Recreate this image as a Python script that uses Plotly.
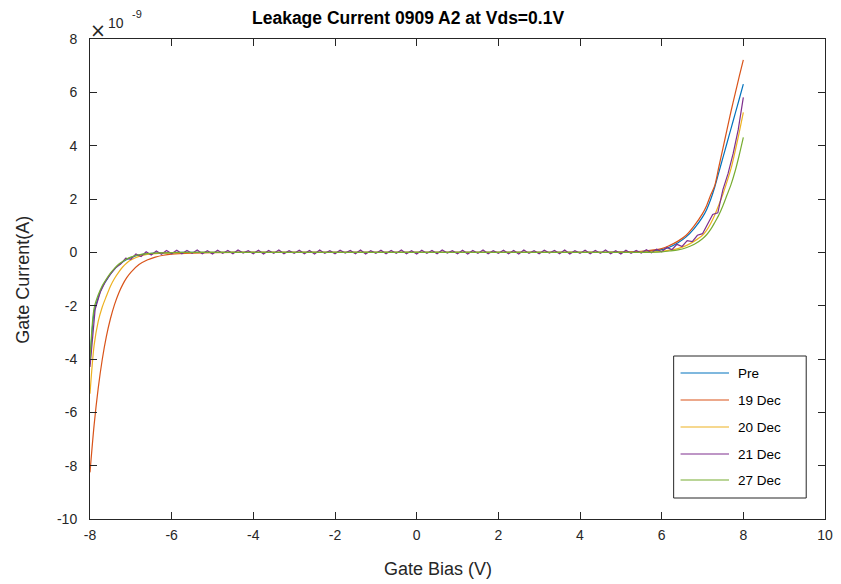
import plotly.graph_objects as go

# ---------------- data (currents in units of 1e-9 A) ----------------
series_names = ["Pre", "19 Dec", "20 Dec", "21 Dec", "27 Dec"]
series_colors = ["#0072BD", "#D95319", "#EDB120", "#7E2F8E", "#77AC30"]

# shared gate-bias samples for the smooth curves
x_smooth = [-8.0, -7.9, -7.8, -7.7, -7.6, -7.5, -7.4, -7.3, -7.2, -7.1, -7.0,
            -6.8, -6.6, -6.4, -6.2, -6.0, -5.5, -5.0, -4.0, -2.0, 0.0, 2.0, 4.0,
            5.0, 5.5, 6.0, 6.2, 6.4, 6.6, 6.8, 7.0, 7.1, 7.2, 7.3, 7.4, 7.5, 7.6,
            7.7, 7.8, 7.9, 8.0]

pre = [-4.2, -2.25, -1.7, -1.3, -1.05, -0.82, -0.63, -0.48, -0.36, -0.27, -0.2,
       -0.1, -0.06, -0.03, -0.02, -0.01, 0.0, 0.0, 0.0, 0.0, 0.0, 0.0, 0.0,
       0.01, 0.03, 0.1, 0.2, 0.36, 0.58, 0.9, 1.32, 1.6, 1.98, 2.45, 3.0, 3.55, 4.1,
       4.65, 5.2, 5.75, 6.31]

dec19 = [-8.25, -6.49, -5.11, -4.02, -3.16, -2.49, -1.96, -1.54, -1.21, -0.95, -0.75,
         -0.46, -0.29, -0.18, -0.11, -0.07, -0.03, -0.01, 0.0, 0.0, 0.0, 0.0, 0.0,
         0.01, 0.04, 0.14, 0.26, 0.42, 0.64, 1.0, 1.45, 1.75, 2.15, 2.5, 3.2, 3.9, 4.6,
         5.3, 5.95, 6.6, 7.22]

dec20 = [-5.3, -3.5, -2.6, -2.05, -1.65, -1.27, -0.98, -0.75, -0.55, -0.4, -0.29,
         -0.15, -0.08, -0.05, -0.03, -0.02, -0.01, 0.0, 0.0, 0.0, 0.0, 0.0, 0.0,
         0.0, 0.01, 0.04, 0.08, 0.14, 0.25, 0.42, 0.64, 0.82, 1.08, 1.4, 1.78, 2.18, 2.65,
         3.15, 3.8, 4.5, 5.25]

dec27 = [-4.0, -2.1, -1.6, -1.25, -1.0, -0.78, -0.6, -0.45, -0.34, -0.25, -0.18,
         -0.09, -0.05, -0.03, -0.02, -0.01, 0.0, 0.0, 0.0, 0.0, 0.0, 0.0, 0.0,
         0.0, 0.0, 0.02, 0.05, 0.09, 0.17, 0.3, 0.51, 0.66, 0.86, 1.12, 1.4, 1.75, 2.15,
         2.55, 3.05, 3.65, 4.31]

# the noisy 21 Dec sweep, sampled every 0.125 V
x_dec21 = [-8.0, -7.875, -7.75, -7.625, -7.5, -7.375, -7.25, -7.125, -7.0, -6.875,
           -6.75, -6.625, -6.5, -6.375, -6.25, -6.125, -6.0, -5.875, -5.75, -5.625,
           -5.5, -5.375, -5.25, -5.125, -5.0, -4.875, -4.75, -4.625, -4.5, -4.375,
           -4.25, -4.125, -4.0, -3.875, -3.75, -3.625, -3.5, -3.375, -3.25, -3.125,
           -3.0, -2.875, -2.75, -2.625, -2.5, -2.375, -2.25, -2.125, -2.0, -1.875,
           -1.75, -1.625, -1.5, -1.375, -1.25, -1.125, -1.0, -0.875, -0.75, -0.625,
           -0.5, -0.375, -0.25, -0.125, 0.0, 0.125, 0.25, 0.375, 0.5, 0.625,
           0.75, 0.875, 1.0, 1.125, 1.25, 1.375, 1.5, 1.625, 1.75, 1.875,
           2.0, 2.125, 2.25, 2.375, 2.5, 2.625, 2.75, 2.875, 3.0, 3.125,
           3.25, 3.375, 3.5, 3.625, 3.75, 3.875, 4.0, 4.125, 4.25, 4.375,
           4.5, 4.625, 4.75, 4.875, 5.0, 5.125, 5.25, 5.375, 5.5, 5.625,
           5.75, 5.875, 6.0, 6.125, 6.25, 6.375, 6.5, 6.625, 6.75, 6.875,
           7.0, 7.125, 7.25, 7.375, 7.5, 7.625, 7.75, 7.875, 8.0]

dec21 = [-4.3, -2.15, -1.5, -1.1, -0.82, -0.58, -0.44, -0.22, -0.26, -0.06,
         -0.16, 0.02, -0.1, 0.05, -0.07, 0.07, -0.05, 0.08, -0.05, 0.07,
         -0.04, 0.09, -0.05, 0.06, -0.06, 0.08, -0.04, 0.07, -0.05, 0.09,
         -0.03, 0.06, -0.05, 0.08, -0.06, 0.07, -0.04, 0.09, -0.05, 0.06,
         -0.04, 0.08, -0.05, 0.07, -0.06, 0.09, -0.04, 0.06, -0.05, 0.08,
         -0.03, 0.07, -0.05, 0.09, -0.06, 0.06, -0.04, 0.08, -0.05, 0.07,
         -0.04, 0.09, -0.05, 0.06, -0.06, 0.08, -0.04, 0.07, -0.05, 0.09,
         -0.03, 0.06, -0.05, 0.08, -0.06, 0.07, -0.04, 0.09, -0.05, 0.06,
         -0.04, 0.08, -0.05, 0.07, -0.06, 0.09, -0.04, 0.06, -0.05, 0.08,
         -0.03, 0.07, -0.05, 0.09, -0.06, 0.06, -0.04, 0.08, -0.05, 0.07,
         -0.04, 0.09, -0.05, 0.06, -0.06, 0.08, -0.04, 0.07, -0.03, 0.1,
         -0.02, 0.12, 0.02, 0.18, 0.1, 0.3, 0.22, 0.44, 0.4, 0.64,
         0.7, 1.06, 1.42, 1.48, 2.35, 2.95, 3.7, 4.6, 5.81]

x_tick_vals = [-8, -6, -4, -2, 0, 2, 4, 6, 8, 10]
x_tick_text = ["-8", "-6", "-4", "-2", "0", "2", "4", "6", "8", "10"]
y_tick_vals = [-10, -8, -6, -4, -2, 0, 2, 4, 6, 8]
y_tick_text = ["-10", "-8", "-6", "-4", "-2", "0", "2", "4", "6", "8"]

title_text = "Leakage Current 0909 A2 at Vds=0.1V"
x_label = "Gate Bias (V)"
y_label = "Gate Current(A)"

# ---------------- layout geometry (pixels) ----------------
W, H = 841, 584
L, R, T, B = 90, 8, 39, 65
PW, PH = W - L - R, H - T - B


def px(xp):
    return (xp - L) / PW


def py(yp):
    return (H - B - yp) / PH


FONT = "Liberation Sans, Arial, Helvetica, sans-serif"
AX = "#262626"

fig = go.Figure()
xs_all = [x_smooth, x_smooth, x_smooth, x_dec21, x_smooth]
ys_all = [pre, dec19, dec20, dec21, dec27]
for name, color, xs, ys in zip(series_names, series_colors, xs_all, ys_all):
    shape = "linear" if xs is x_dec21 else "spline"
    fig.add_trace(go.Scatter(x=xs, y=ys, mode="lines", name=name,
                             line=dict(color=color, width=1.2, shape=shape,
                                       smoothing=0.8 if shape == "spline" else None),
                             showlegend=False))

axis_common = dict(showline=True, linecolor=AX, linewidth=1, mirror="ticks",
                   ticks="inside", ticklen=7, tickcolor=AX, tickwidth=1,
                   showgrid=False, zeroline=False,
                   tickfont=dict(family=FONT, size=14, color=AX))
fig.update_xaxes(range=[-8, 10], tickmode="array", tickvals=x_tick_vals,
                 ticktext=x_tick_text, ticklabelstandoff=3, **axis_common)
fig.update_yaxes(range=[-10, 8], tickmode="array", tickvals=y_tick_vals,
                 ticktext=y_tick_text, ticklabelstandoff=9, **axis_common)

annotations = [
    dict(text="<b>" + title_text + "</b>", x=px(411), y=py(18), xanchor="center",
         yanchor="middle", font=dict(family=FONT, size=17.5, color="#000000")),
    dict(text=x_label, x=px(442), y=py(569), xanchor="center", yanchor="middle",
         font=dict(family=FONT, size=18, color=AX)),
    dict(text=y_label, x=px(22), y=py(280), xanchor="center", yanchor="middle",
         textangle=-90, font=dict(family=FONT, size=18, color=AX)),
    dict(text="\u00d7", x=px(98), y=py(30), xanchor="center", yanchor="middle",
         font=dict(family="DejaVu Sans, sans-serif", size=19, color=AX)),
    dict(text="10", x=px(116), y=py(23), xanchor="center", yanchor="middle",
         font=dict(family=FONT, size=14, color=AX)),
    dict(text="-9", x=px(138), y=py(14), xanchor="center", yanchor="middle",
         font=dict(family=FONT, size=11, color=AX)),
]

# legend box drawn in the axes corner
shapes = [dict(type="rect", xref="paper", yref="paper", x0=px(680), x1=px(814),
               y0=py(356), y1=py(498), line=dict(color=AX, width=1),
               fillcolor="white", layer="above")]
entry_y = [373, 400, 427, 454, 480]
for name, color, ey in zip(series_names, series_colors, entry_y):
    shapes.append(dict(type="line", xref="paper", yref="paper", x0=px(687), x1=px(736),
                       y0=py(ey), y1=py(ey), line=dict(color=color, width=1.2),
                       layer="above"))
    annotations.append(dict(text=name, x=px(743), y=py(ey), xanchor="left",
                            yanchor="middle",
                            font=dict(family=FONT, size=13.5, color="#000000")))

for a in annotations:
    a.update(xref="paper", yref="paper", showarrow=False)

fig.update_layout(width=W, height=H, margin=dict(l=L, r=R, t=T, b=B),
                  paper_bgcolor="white", plot_bgcolor="white",
                  annotations=annotations, shapes=shapes, showlegend=False)

fig.write_html("out.html")
